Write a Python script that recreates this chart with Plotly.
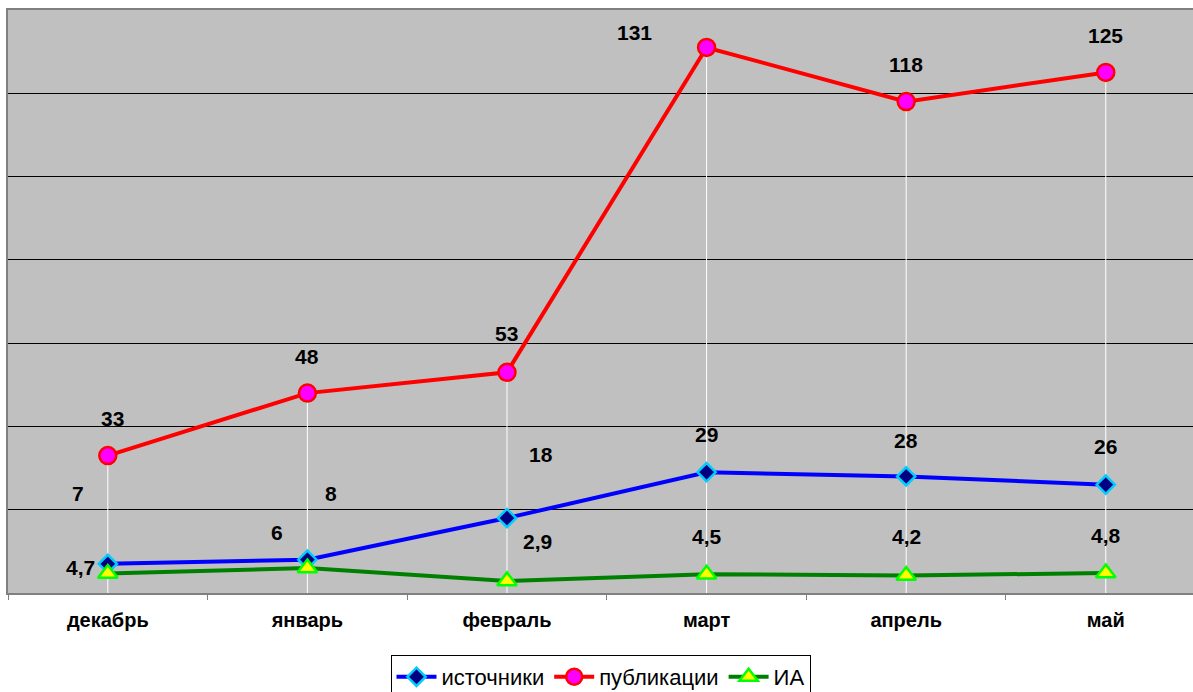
import plotly.graph_objects as go

# Monthly figures
months = ["декабрь", "январь", "февраль", "март", "апрель", "май"]
sources = [7, 8, 18, 29, 28, 26]           # источники
publications = [33, 48, 53, 131, 118, 125]  # публикации
agencies = [4.7, 6, 2.9, 4.5, 4.2, 4.8]     # ИА

# Pixel offsets of the value labels relative to their points (dx, dy up)
src_off = [(-30, 70), (24, 66), (34, 64), (0, 38), (0, 36), (0, 38)]
pub_off = [(5, 37), (0, 37), (0, 39), (-72, 15), (0, 37), (0, 37)]
ia_off = [(-27, 6), (-30, 36), (31, 39), (0, 38), (0, 39), (0, 38)]

FONT = "Liberation Sans, Arial, sans-serif"

fig = go.Figure()

fig.add_trace(go.Scatter(
    x=months, y=sources, name="источники", mode="lines+markers",
    line=dict(color="#0000FF", width=4),
    marker=dict(symbol="diamond", size=14, color="#000080",
                line=dict(color="#00CCFF", width=2.5)),
))
fig.add_trace(go.Scatter(
    x=months, y=publications, name="публикации", mode="lines+markers",
    line=dict(color="#FF0000", width=4),
    marker=dict(symbol="circle", size=17, color="#FF00FF",
                line=dict(color="#FF0000", width=2.5)),
))
fig.add_trace(go.Scatter(
    x=months, y=agencies, name="ИА", mode="lines+markers",
    line=dict(color="#008000", width=4),
    marker=dict(symbol="triangle-up", size=17, color="#FFFF00",
                line=dict(color="#00FF00", width=2.5)),
))

# White drop lines from the highest point of each month to the axis
shapes = []
for i, m in enumerate(months):
    top = max(sources[i], publications[i], agencies[i])
    shapes.append(dict(type="line", xref="x", yref="y", x0=m, x1=m,
                       y0=0, y1=top, layer="between",
                       line=dict(color="#FFFFFF", width=1)))


def fmt(v):
    return (f"{v:g}").replace(".", ",")


annotations = []
for vals, offs in ((sources, src_off), (publications, pub_off), (agencies, ia_off)):
    for m, v, (dx, dy) in zip(months, vals, offs):
        annotations.append(dict(
            x=m, y=v, xref="x", yref="y", text=fmt(v), showarrow=False,
            xshift=dx, yshift=dy, xanchor="center", yanchor="middle",
            font=dict(family=FONT, size=21, color="#000000", weight="bold"),
        ))

fig.update_layout(
    width=1193, height=692, autosize=False,
    margin=dict(l=8, r=0, t=10, b=99),
    paper_bgcolor="#FFFFFF", plot_bgcolor="#C0C0C0",
    font=dict(family=FONT, color="#000000"),
    shapes=shapes, annotations=annotations,
    showlegend=True,
    legend=dict(
        orientation="h", x=0.5, xanchor="center",
        yref="container", y=0.0535, yanchor="top",
        bgcolor="#FFFFFF", bordercolor="#000000", borderwidth=1,
        font=dict(family=FONT, size=22, color="#000000"),
        itemwidth=40, tracegroupgap=0,
    ),
)

fig.update_xaxes(
    type="category", range=[-0.5, 5.437],
    showgrid=False, zeroline=False,
    showline=True, linecolor="#808080", linewidth=2, mirror=True,
    tickson="boundaries", ticks="outside", ticklen=5, tickcolor="#808080",
    tickwidth=1,
    tickfont=dict(family=FONT, size=20, color="#000000", weight="bold"),
    ticklabelstandoff=8,
)
fig.update_yaxes(
    range=[0, 140], dtick=20, showticklabels=False, ticks="",
    showgrid=True, gridcolor="#000000", gridwidth=1, zeroline=False,
    showline=True, linecolor="#808080", linewidth=2,
)

fig.write_html("out.html")
